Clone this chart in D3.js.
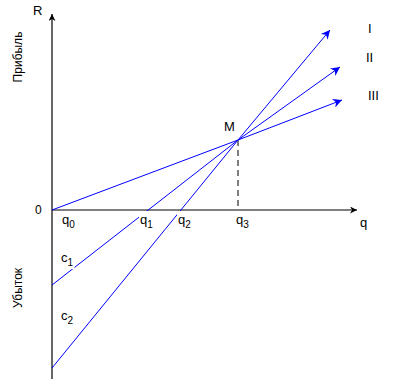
<!DOCTYPE html>
<html><head><meta charset="utf-8">
<script src="https://cdn.jsdelivr.net/npm/d3@7"></script>
<style>body{margin:0;background:#fff}svg{display:block}text{font-family:"Liberation Sans",Arial,sans-serif;fill:#000}</style>
</head><body>
<script>
// data (abstract units: quantity q, result R)
const lineNames = ["I", "II", "III"];
const lineStartY = [-158, -75, 0];      // R at q = 0
const pointM = [186, 70];               // intersection M
const lineEnd = [[278, 180], [288, 143], [290, 110]];
const qTicks = [["q","0",10], ["q","1",88], ["q","2",126], ["q","3",184]];
const cLabels = [["c","1",-52], ["c","2",-110]];

const W = 397, H = 379;
const x = d3.scaleLinear().domain([0, 300]).range([52, 352]);
const y = d3.scaleLinear().domain([-170, 200]).range([380, 10]);

const svg = d3.select("body").append("svg").attr("width", W).attr("height", H);
const defs = svg.append("defs");
function marker(id, color, w, h) {
  defs.append("marker").attr("id", id).attr("viewBox", "0 0 10 10")
    .attr("refX", 10).attr("refY", 5).attr("markerWidth", w).attr("markerHeight", h)
    .attr("markerUnits", "userSpaceOnUse").attr("orient", "auto")
    .append("path").attr("d", "M0,0L10,5L0,10L3,5Z").attr("fill", color);
}
marker("ab", "#0000ff", 11, 9);
marker("ak", "#000", 9, 7);

// axes
svg.append("line").attr("x1", x(0)).attr("x2", x(0)).attr("y1", H).attr("y2", y(196))
  .attr("stroke", "#000").attr("stroke-width", 1.2).attr("marker-end", "url(#ak)");
svg.append("line").attr("x1", x(0)).attr("x2", x(305)).attr("y1", y(0)).attr("y2", y(0))
  .attr("stroke", "#000").attr("stroke-width", 1.2).attr("marker-end", "url(#ak)");

// dashed projection from M
svg.append("line").attr("x1", x(pointM[0])).attr("x2", x(pointM[0]))
  .attr("y1", y(pointM[1])).attr("y2", y(0))
  .attr("stroke", "#000").attr("stroke-dasharray", "6,4");

// lines
const lg = d3.line().x(d => x(d[0])).y(d => y(d[1]));
lineNames.forEach((n, i) => {
  svg.append("path").datum([[0, lineStartY[i]], pointM, lineEnd[i]])
    .attr("d", lg).attr("fill", "none").attr("stroke", "#0000ff").attr("stroke-width", 1)
    .attr("marker-end", "url(#ab)");
});

// label helper with white background
function sublabel(px, py, main, sub) {
  const g = svg.append("g");
  const t = g.append("text").attr("x", px).attr("y", py).attr("font-size", 13);
  t.append("tspan").text(main);
  t.append("tspan").attr("font-size", 10).attr("dy", 4).text(sub);
  const b = t.node().getBBox();
  g.insert("rect", "text").attr("x", b.x - 1).attr("y", b.y - 1)
    .attr("width", b.width + 2).attr("height", b.height + 2).attr("fill", "#fff");
}
qTicks.forEach(d => sublabel(x(d[2]), y(0) + 14, d[0], d[1]));
cLabels.forEach(d => sublabel(x(0) + 9, y(d[2]), d[0], d[1]));

svg.append("text").attr("x", 360).attr("y", 227).attr("font-size", 13).text("q");
svg.append("text").attr("x", 35).attr("y", 214).attr("font-size", 12).text("0");
svg.append("text").attr("x", 33).attr("y", 15).attr("font-size", 13).text("R");
svg.append("text").attr("x", 224).attr("y", 131).attr("font-size", 13).text("M");
[[368, 33], [366, 62], [368, 100]].forEach((p, i) =>
  svg.append("text").attr("x", p[0]).attr("y", p[1]).attr("font-size", 13).text(lineNames[i]));

svg.append("text").attr("transform", "translate(22,57) rotate(-90)")
  .attr("text-anchor", "middle").attr("font-size", 12).text("Прибыль");
svg.append("text").attr("transform", "translate(22,288) rotate(-90)")
  .attr("text-anchor", "middle").attr("font-size", 12).text("Убыток");
</script>
</body></html>
